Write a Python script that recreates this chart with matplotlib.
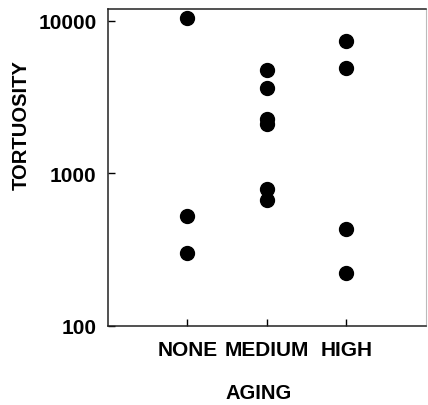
import matplotlib
matplotlib.use("Agg")
import matplotlib.pyplot as plt
from matplotlib.ticker import FixedLocator, NullLocator

plt.rcParams['font.family'] = ['Liberation Sans', 'DejaVu Sans']
plt.rcParams['font.weight'] = 'bold'

# Tortuosity measured for each aging level
categories = ["NONE", "MEDIUM", "HIGH"]
none_vals = [10480, 525, 302]
medium_vals = [4750, 3620, 2280, 2110, 786, 666]
high_vals = [7390, 4890, 434, 223]
y_ticks = [100, 1000, 10000]
y_tick_labels = ["100", "1000", "10000"]

fig = plt.figure(figsize=(4.28, 4.06), dpi=100)
ax = fig.add_axes([0.252, 0.195, 0.743, 0.780])

for i, vals in enumerate([none_vals, medium_vals, high_vals]):
    ax.plot([i + 1] * len(vals), vals, 'o', color='black', markersize=10, linestyle='none')

ax.set_yscale('log')
ax.set_ylim(100, 11900)
ax.set_xlim(0, 4)

ax.yaxis.set_major_locator(FixedLocator(y_ticks))
ax.yaxis.set_minor_locator(NullLocator())
ax.set_yticklabels(y_tick_labels)
ax.set_xticks([1, 2, 3])
ax.set_xticklabels(categories)

ax.tick_params(axis='both', direction='in', length=5, width=1, labelsize=15)
ax.tick_params(axis='y', pad=8)
ax.tick_params(axis='x', pad=10)
for lbl in ax.get_xticklabels() + ax.get_yticklabels():
    lbl.set_fontweight('bold')

for side in ['left', 'bottom', 'top']:
    ax.spines[side].set_linewidth(1.1)
    ax.spines[side].set_color('#222222')
ax.spines['right'].set_color('#bbbbbb')
ax.spines['right'].set_linewidth(0.8)

fig.text(0.049, 0.692, "TORTUOSITY", rotation=90, ha='center', va='center',
         fontsize=14.5, fontweight='bold')
fig.text(0.605, 0.032, "AGING", ha='center', va='center', fontsize=14.5, fontweight='bold')

fig.savefig("out.png", dpi=100)
